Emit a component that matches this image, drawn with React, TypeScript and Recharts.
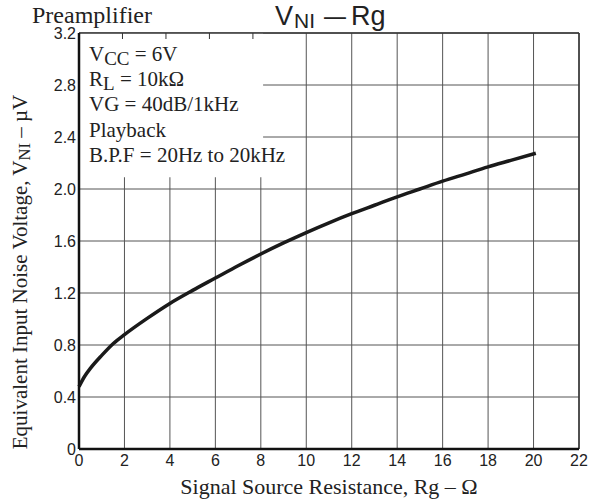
import React from "react"
import {
  LineChart,
  Line,
  XAxis,
  YAxis,
  CartesianGrid,
  ReferenceArea,
  ReferenceLine,
} from "recharts"

// values
const rg = [0, 0.25, 0.5, 1, 1.5, 2, 3, 4, 5, 6, 7, 8, 9, 10, 11, 12, 13, 14, 15, 16, 17, 18, 19, 20.1]
const vni = [
  0.48, 0.56, 0.62, 0.72, 0.81, 0.88, 1.005, 1.12, 1.22, 1.315, 1.41, 1.5, 1.585, 1.665, 1.74, 1.81,
  1.875, 1.94, 2.0, 2.06, 2.115, 2.17, 2.22, 2.275,
]
const xTicks = [0, 2, 4, 6, 8, 10, 12, 14, 16, 18, 20, 22]
const yTicks = [0, 0.4, 0.8, 1.2, 1.6, 2.0, 2.4, 2.8, 3.2]
const innerTopTicks = [2, 4, 6, 8]
const innerLeftTicks = [2.4, 2.8]

const data = rg.map((x, i) => ({ rg: x, vni: vni[i] }))

const serif = "'Liberation Serif', 'Times New Roman', serif"
const sans = "'Liberation Sans', Arial, sans-serif"
const ink = "#222"

const YLabel = () => (
  <text
    x={20}
    y={272}
    transform="rotate(-90, 20, 272)"
    textAnchor="middle"
    dominantBaseline="central"
    fontFamily={serif}
    fontSize={21}
    fill={ink}
  >
    Equivalent Input Noise Voltage, V
    <tspan fontSize={16.5} dy={4}>NI</tspan>
    <tspan dy={-4}> – µV</tspan>
  </text>
)

export default function App() {
  return (
    <div style={{ position: "absolute", left: 0, top: 0, width: 592, height: 499, background: "#fff" }}>
      <LineChart width={592} height={499} data={data} margin={{ top: 33, right: 13, left: 40, bottom: 0 }}>
        <CartesianGrid stroke="#555" strokeWidth={1} />
        <ReferenceArea x1={0} x2={8.1} y1={2.09} y2={3.2} fill="#fff" fillOpacity={1} stroke="none" />
        <ReferenceLine y={3.2} stroke="#333" strokeWidth={1.5} />
        <ReferenceLine x={22} stroke="#333" strokeWidth={1.5} />
        <XAxis
          dataKey="rg"
          type="number"
          domain={[0, 22]}
          ticks={xTicks}
          interval={0}
          height={50}
          tickSize={0}
          tickMargin={6}
          axisLine={{ stroke: "#111", strokeWidth: 2.5 }}
          tickLine={false}
          tick={{ fontSize: 16, fontFamily: sans, fill: ink }}
          label={{
            value: "Signal Source Resistance, Rg – Ω",
            position: "insideBottom",
            offset: 5,
            fontSize: 22,
            fontFamily: serif,
            fill: ink,
          }}
        />
        <XAxis
          xAxisId="top"
          orientation="top"
          type="number"
          domain={[0, 22]}
          ticks={innerTopTicks}
          height={1}
          mirror
          tickSize={6}
          axisLine={false}
          tickLine={{ stroke: "#333", strokeWidth: 1 }}
          tick={{ fill: "none" }}
        />
        <YAxis
          type="number"
          domain={[0, 3.2]}
          ticks={yTicks}
          interval={0}
          width={39}
          tickSize={0}
          tickMargin={3}
          axisLine={{ stroke: "#111", strokeWidth: 2.5 }}
          tickLine={false}
          tickFormatter={(v: number) => (v === 0 ? "0" : v.toFixed(1))}
          tick={{ fontSize: 16, fontFamily: sans, fill: ink }}
          label={<YLabel />}
        />
        <YAxis
          yAxisId="inner"
          type="number"
          domain={[0, 3.2]}
          ticks={innerLeftTicks}
          width={1}
          mirror
          tickSize={5}
          axisLine={false}
          tickLine={{ stroke: "#333", strokeWidth: 1 }}
          tick={{ fill: "none" }}
        />
        <Line
          type="monotone"
          dataKey="vni"
          stroke="#1a1a1a"
          strokeWidth={3.5}
          dot={false}
          isAnimationActive={false}
        />
      </LineChart>
      <svg
        width={592}
        height={499}
        style={{ position: "absolute", left: 0, top: 0, pointerEvents: "none" }}
      >
        <text x={32} y={23} fontFamily={serif} fontSize={24} fill={ink}>
          Preamplifier
        </text>
        <text x={275} y={25} fontFamily={sans} fontSize={27} fill={ink}>
          V<tspan fontSize={21} dy={3} dx={1}>NI</tspan>
          <tspan dy={-3} dx={9} textLength={22} lengthAdjust="spacingAndGlyphs">–</tspan>
          <tspan dx={5}>Rg</tspan>
        </text>
        <g fontFamily={serif} fontSize={21} fill={ink}>
          <text x={89} y={61}>
            V<tspan fontSize={19} dy={4}>CC</tspan>
            <tspan dy={-4}> = 6V</tspan>
          </text>
          <text x={89} y={86}>
            R<tspan fontSize={19} dy={4}>L</tspan>
            <tspan dy={-4}> = 10kΩ</tspan>
          </text>
          <text x={89} y={111}>VG = 40dB/1kHz</text>
          <text x={89} y={137}>Playback</text>
          <text x={89} y={162}>B.P.F = 20Hz to 20kHz</text>
        </g>
      </svg>
    </div>
  )
}
